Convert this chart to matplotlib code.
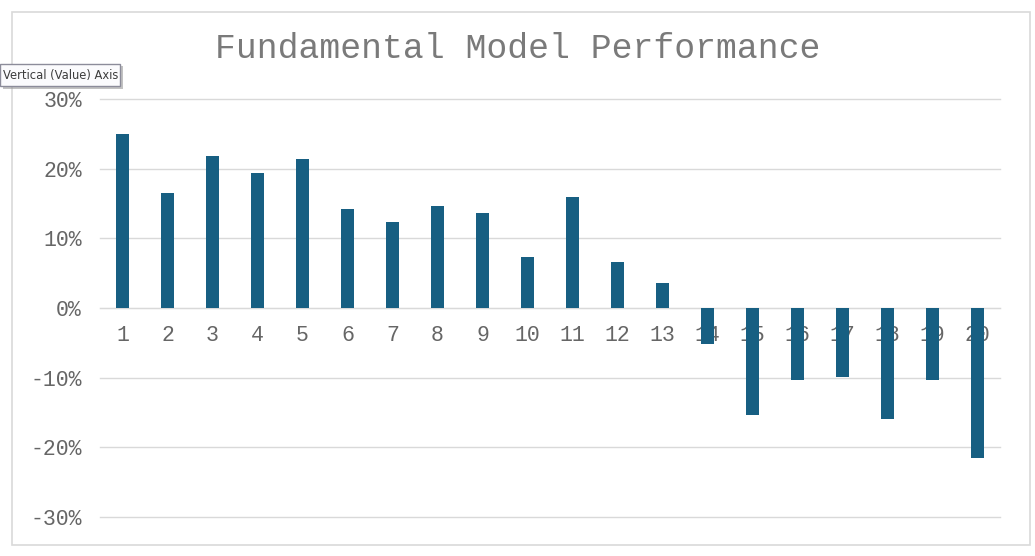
import matplotlib
matplotlib.use("Agg")
import matplotlib.pyplot as plt
from matplotlib.patches import Rectangle
from matplotlib.ticker import FuncFormatter, FixedLocator

categories = [str(i) for i in range(1, 21)]
performance = [25.0, 16.5, 21.8, 19.4, 21.4, 14.2, 12.3, 14.6, 13.6, 7.3,
               15.9, 6.6, 3.6, -5.1, -15.3, -10.3, -9.9, -16.0, -10.3, -21.5]
y_ticks = [-30, -20, -10, 0, 10, 20, 30]
title = "Fundamental Model Performance"

W, H = 1035, 556
fig = plt.figure(figsize=(W / 100, H / 100), dpi=100)
fig.patch.set_facecolor("white")

# outer chart border
fig.add_artist(Rectangle((12 / W, 1 - 545 / H), (1030 - 12) / W, (545 - 12) / H,
                         transform=fig.transFigure, fill=False,
                         edgecolor="#d9d9d9", linewidth=1.2))

ax = fig.add_axes([100 / W, 1 - 517 / H, 900 / W, (517 - 99) / H])
xs = list(range(1, len(categories) + 1))
ax.bar(xs, performance, width=0.31, color="#175f82", zorder=3)
ax.set_xlim(0.5, len(categories) + 0.5)
ax.set_ylim(-30, 30)

ax.yaxis.set_major_locator(FixedLocator(y_ticks))
ax.yaxis.set_major_formatter(FuncFormatter(lambda v, p: f"{int(round(v))}%"))
ax.grid(axis="y", color="#d9d9d9", linewidth=1, zorder=0)
for gl in ax.get_ygridlines():
    gl.set_clip_on(False)
ax.set_xticks(xs)
ax.set_xticklabels(categories)

for s in ["top", "right", "left"]:
    ax.spines[s].set_visible(False)
ax.spines["bottom"].set_position(("data", 0))
ax.spines["bottom"].set_color("#d9d9d9")
ax.spines["bottom"].set_zorder(2)

ax.tick_params(axis="both", length=0, labelcolor="#666666", labelsize=15.5)
ax.tick_params(axis="y", pad=13)
ax.tick_params(axis="x", pad=12)
for lbl in ax.get_xticklabels() + ax.get_yticklabels():
    lbl.set_fontfamily("Liberation Mono")

fig.text(0.5, 1 - 48 / H, title, ha="center", va="center",
         fontsize=25, color="#7a7a7a", fontfamily="Liberation Mono")

# tooltip box
fig.add_artist(Rectangle((3 / W, 1 - 89 / H), 120 / W, 23 / H,
                         transform=fig.transFigure, facecolor="#9a9a9a",
                         edgecolor="none", alpha=0.6))
fig.add_artist(Rectangle((0 / W, 1 - 86 / H), 120 / W, 22 / H,
                         transform=fig.transFigure, facecolor="#fbfbfd",
                         edgecolor="#8c8c9a", linewidth=1))
fig.text(3 / W, 1 - 75 / H, "Vertical (Value) Axis", ha="left", va="center",
         fontsize=8.3, color="#3c3c3c", fontfamily="DejaVu Sans")

fig.savefig("out.png", dpi=100)
